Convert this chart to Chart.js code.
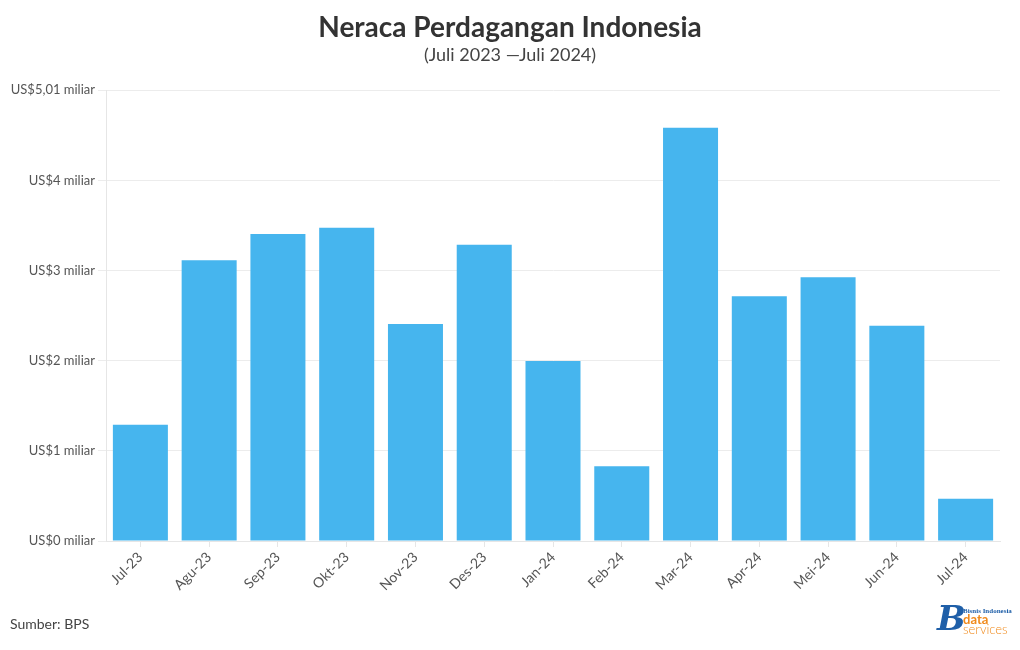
<!DOCTYPE html>
<html>
<head>
<meta charset="utf-8">
<script src="https://cdn.jsdelivr.net/npm/chart.js@4/dist/chart.umd.min.js"></script>
<style>
  html, body { margin: 0; padding: 0; background: #fff; }
  #wrap { width: 1020px; height: 650px; position: relative; }
</style>
</head>
<body>
<div id="wrap"><canvas id="c"></canvas></div>
<script>
// Neraca Perdagangan Indonesia, Juli 2023 - Juli 2024 (surplus, US$ miliar)
const months = ['Jul-23', 'Agu-23', 'Sep-23', 'Okt-23', 'Nov-23', 'Des-23',
  'Jan-24', 'Feb-24', 'Mar-24', 'Apr-24', 'Mei-24', 'Jun-24', 'Jul-24'];
const surplus = [1.29, 3.12, 3.41, 3.48, 2.41, 3.29, 2.00, 0.83, 4.59, 2.72, 2.93, 2.39, 0.47];
const yTicks = [0, 1, 2, 3, 4, 5.01];
const yTickLabels = ['US$0 miliar', 'US$1 miliar', 'US$2 miliar', 'US$3 miliar', 'US$4 miliar', 'US$5,01 miliar'];

const FONT = "Lato, 'Open Sans', sans-serif";

const decorations = {
  id: 'decorations',
  afterDraw(chart) {
    const ctx = chart.ctx;
    ctx.save();
    ctx.textAlign = 'center';
    ctx.textBaseline = 'middle';
    ctx.fillStyle = '#333';
    ctx.font = 'bold 28px ' + FONT;
    ctx.fillText('Neraca Perdagangan Indonesia', 510, 28);
    ctx.font = '18px ' + FONT;
    ctx.fillStyle = '#444';
    ctx.fillText('(Juli 2023 \u2014Juli 2024)', 510, 55);

    ctx.textAlign = 'left';
    ctx.font = '14px ' + FONT;
    ctx.fillStyle = '#444';
    ctx.fillText('Sumber: BPS', 10, 624);

    // logo
    ctx.fillStyle = '#1f5fa8';
    ctx.font = 'bold italic 34px "DejaVu Serif", serif';
    ctx.fillText('B', 937, 621);
    ctx.font = 'bold 7px "Liberation Serif", serif';
    ctx.fillText('Bisnis Indonesia', 963, 611);
    ctx.fillStyle = '#f08a1c';
    ctx.font = 'bold 13px ' + FONT;
    ctx.fillText('data', 963, 620);
    ctx.font = '300 13px ' + FONT;
    ctx.fillText('services', 963, 630);
    ctx.restore();
  }
};

new Chart(document.getElementById('c'), {
  type: 'bar',
  data: {
    labels: months,
    datasets: [{
      label: 'Neraca Perdagangan',
      data: surplus,
      backgroundColor: '#46b5ee',
      borderWidth: 0,
      barPercentage: 0.8,
      categoryPercentage: 1
    }]
  },
  options: {
    responsive: true,
    maintainAspectRatio: false,
    animation: false,
    layout: { padding: { top: 90, left: 10, right: 20, bottom: 49 } },
    plugins: {
      legend: { display: false },
      tooltip: { enabled: false }
    },
    scales: {
      x: {
        grid: { display: true, offset: false, drawOnChartArea: false, tickLength: 6, color: '#e6e6e6' },
        border: { color: '#e6e6e6' },
        ticks: {
          color: '#555',
          padding: 2,
          font: { family: FONT, size: 14 },
          maxRotation: 45,
          minRotation: 45,
          autoSkip: false
        },
        afterFit(scale) { scale.height = 60; }
      },
      y: {
        min: 0,
        max: 5.01,
        afterBuildTicks(scale) { scale.ticks = yTicks.map(v => ({ value: v })); },
        grid: { color: '#ececec', tickLength: 8 },
        border: { color: '#e6e6e6' },
        ticks: {
          color: '#555',
          padding: 3,
          font: { family: FONT, size: 13 },
          callback(value) {
            const i = yTicks.indexOf(value);
            return i >= 0 ? yTickLabels[i] : '';
          }
        },
        afterFit(scale) { scale.width = 96; }
      }
    }
  },
  plugins: [decorations]
});
</script>
</body>
</html>
